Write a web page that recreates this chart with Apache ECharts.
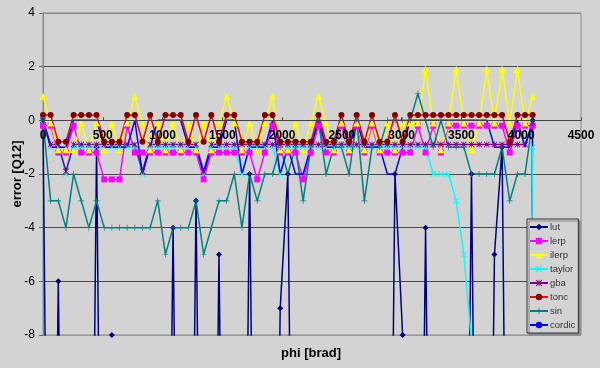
<!DOCTYPE html>
<html><head><meta charset="utf-8">
<script src="https://cdn.jsdelivr.net/npm/echarts@6/dist/echarts.min.js"></script>
<style>html,body{margin:0;padding:0;background:#d3d3d3}#c{width:600px;height:368px}</style>
</head><body><div id="c"></div>
<script>
const phi = [0,64,128,192,256,320,384,448,512,576,640,704,768,832,896,960,1024,1088,1152,1216,1280,1344,1408,1472,1536,1600,1664,1728,1792,1856,1920,1984,2048,2112,2176,2240,2304,2368,2432,2496,2560,2624,2688,2752,2816,2880,2944,3008,3072,3136,3200,3264,3328,3392,3456,3520,3584,3648,3712,3776,3840,3904,3968,4032,4096];
const xTicks = [0,500,1000,1500,2000,2500,3000,3500,4000,4500];
const yTicks = [-8,-6,-4,-2,0,2,4];
const lut = [0,-30,-6,-30,-30,-30,-30,-1,-30,-8,
 -30,-30,-30,-30,-30,-30,-30,-4,-30,-30,
 -3,-30,-30,-5,-30,-30,-30,-2,-30,-30,
 -30,-7,-2,-30,-30,-30,-30,-30,-30,-30,
 -30,-30,-30,-30,-30,-30,-2,-8,-30,-30,
 -4,-30,-30,-30,-30,-30,-2,-30,-30,-5,
 -1,-30,-30,-30,0];
const lerp = [-0.2,-0.2,-1.2,-1.2,-0.2,-1.2,-1.2,-1.2,-2.2,-2.2,
 -2.2,-0.2,-1.2,-1.2,-1.2,-1.2,-1.2,-1.2,-1.2,-1.2,
 -1.2,-2.2,-1.2,-1.2,-1.2,-1.2,-1.2,-1.2,-2.2,-1.2,
 -0.2,-1.2,-1.2,-1.2,-2.2,-1.2,-0.2,-1.2,-1.2,-0.2,
 -1.2,-0.2,-1.2,-0.2,-1.2,-1.2,-1.2,-1.2,-1.2,-0.2,
 -1.2,-0.2,-1.2,-0.2,-0.2,-0.2,-0.2,-0.2,-0.2,-0.2,
 -0.2,-1.2,-0.2,-0.2,-0.2];
const ilerp = [0.9,-0.1,-1.1,-1.1,-1.1,-0.1,-1.1,-0.1,-1.1,-0.1,
 -1.1,-0.1,0.9,-0.1,-1.1,-0.1,-1.1,-0.1,-1.1,-0.1,
 -1.1,-0.1,-1.1,-0.1,0.9,-0.1,-1.1,-0.1,-1.1,-0.1,
 0.9,-1.1,-1.1,-0.1,-1.1,-0.1,0.9,-0.1,-1.1,-0.1,
 -1.1,-0.1,-1.1,-0.1,-1.1,-0.1,-1.1,-0.1,-0.1,-0.1,
 1.9,-0.1,-1.1,-0.1,1.9,-0.1,-1.1,-0.1,1.9,-0.1,
 1.9,-0.1,1.9,-0.1,0.9];
const taylor = [0,-1,-1,-2,-1,-1,-1,-1,-1,-1,
 -1,-1,-1,-2,-1,-1,-1,-1,-1,-1,
 -1,-2,-1,-1,-1,-1,-2,-1,-1,-1,
 -1,-2,-1,-1,-1,-1,-1,-1,-1,-1,
 -1,-1,-1,-1,-1,-1,-1,-1,-1,-1,
 -1,-2,-2,-2,-3,-5,-8.2,-10,-12,-14,
 -16,-19,-21,-24,-1];
const gba = [0,-0.9,-0.9,-1.9,-0.9,-0.9,-0.9,-0.9,-0.9,-0.9,
 -0.9,-0.9,-0.9,-1.9,-0.9,-0.9,-0.9,-0.9,-0.9,-0.9,
 -0.9,-1.9,-0.9,-0.9,-0.9,-0.9,-0.9,-0.9,-0.9,-0.9,
 -0.9,-0.9,-0.9,-0.9,-0.9,-0.9,-0.9,-0.9,-0.9,-0.9,
 -0.9,-0.9,-0.9,-0.9,-0.9,-0.9,-0.9,-0.9,-0.9,-0.9,
 -0.9,-0.9,-0.9,-0.9,-0.9,-0.9,-0.9,-0.9,-0.9,-0.9,
 -0.9,-0.9,-0.9,-0.9,-0.1];
const tonc = [0.2,0.2,-0.8,-0.8,0.2,0.2,0.2,0.2,-0.8,-0.8,
 -0.8,0.2,0.2,-0.8,0.2,-0.8,0.2,0.2,0.2,-0.8,
 0.2,-0.8,0.2,-0.8,0.2,0.2,-0.8,-0.8,-0.8,0.2,
 0.2,-0.8,-0.8,-0.8,-0.8,-0.8,0.2,-0.8,-0.8,0.2,
 -0.8,0.2,-0.8,0.2,-0.8,-0.8,0.2,-0.8,0.2,0.2,
 0.2,0.2,0.2,0.2,0.2,0.2,0.2,0.2,0.2,0.2,
 0.2,-0.8,0.2,0.2,0.2];
const sin = [0,-3,-3,-4,-2,-3,-4,-3,-4,-4,
 -4,-4,-4,-4,-4,-3,-5,-4,-4,-4,
 -3,-5,-4,-3,-3,-2,-4,-2,-3,-2,
 -2,-1,-2,-1,-3,-1,0,-2,-1,-1,
 -2,0,-3,-1,-1,0,0,0,0,1,
 0,-1,0,-1,-1,-1,-2,-2,-2,-2,
 -1,-3,-2,-2,0];
const cordic = [0,-1,-1,-1,0,0,0,0,-1,-1,
 -1,-1,0,-2,-1,0,0,0,0,-1,
 -1,-2,-1,-1,0,0,-2,-1,-1,-1,
 0,-2,-1,-2,-2,-1,0,-1,-1,0,
 -1,0,-1,-1,-1,-2,-2,-1,0,0,
 0,0,0,0,0,0,0,0,0,-1,
 -1,-1,0,-1,0];

const names = ['lut','lerp','ilerp','taylor','gba','tonc','sin','cordic'];
const values = [lut,lerp,ilerp,taylor,gba,tonc,sin,cordic];
const xSym = 'path://M0,1L1,0L5,4L9,0L10,1L6,5L10,9L9,10L5,6L1,10L0,9L4,5Z';
const plusSym = 'path://M4.4,0H5.6V4.4H10V5.6H5.6V10H4.4V5.6H0V4.4H4.4Z';
const starSym = 'path://M0,1L1,0L5,4L9,0L10,1L6,5L10,9L9,10L5,6L1,10L0,9L4,5Z M4.4,0H5.6V10H4.4Z';
const styles = [
 {line:'#000080', item:'#000080', symbol:'diamond', size:6},
 {line:'#FF00FF', item:'#FF00FF', symbol:'rect', size:6},
 {line:'#FFFF00', item:'#FFFF00', symbol:'triangle', size:7},
 {line:'#00FFFF', item:'#00FFFF', symbol:xSym, size:6},
 {line:'#800080', item:'#800080', symbol:starSym, size:6},
 {line:'#FF0000', item:'#800000', symbol:'circle', size:6},
 {line:'#008080', item:'#008080', symbol:plusSym, size:6},
 {line:'#0000FF', item:'#0000FF', symbol:'none', size:0}
];
const series = names.map((n,k)=>({
  name:n, type:'line', data: phi.map((p,i)=>[p, values[k][i]]),
  symbol: styles[k].symbol, symbolSize: styles[k].size, showSymbol: styles[k].symbol!=='none',
  lineStyle:{color:styles[k].line, width:1.5},
  itemStyle:{color:styles[k].item, borderColor:styles[k].item, borderWidth:0},
  emphasis:{disabled:true}, animation:false, clip:true
}));

const G = {left:43, right:19, top:13, bottom:33};
const plotH = 368 - G.top - G.bottom;
const zeroOffset = plotH * (0 - yTicks[0]) / (yTicks[yTicks.length-1] - yTicks[0]);

const chart = echarts.init(document.getElementById('c'));
chart.setOption({
  backgroundColor:'#d3d3d3',
  animation:false,
  textStyle:{fontFamily:'Liberation Sans, Arial, sans-serif'},
  grid:{left:G.left, right:G.right, top:G.top, bottom:G.bottom, outerBoundsMode:'none', containLabel:false,
    show:true, backgroundColor:'#d3d3d3', borderColor:'#8a8a8a', borderWidth:1},
  xAxis:{type:'value', min:xTicks[0], max:xTicks[xTicks.length-1], interval:500,
    offset:-zeroOffset, z:10,
    axisLine:{onZero:false, lineStyle:{color:'#444', width:1}},
    axisTick:{show:true, inside:true, length:3, lineStyle:{color:'#444'}},
    axisLabel:{color:'#000', fontWeight:'bold', fontSize:12, margin:9, showMaxLabel:true, showMinLabel:true,
      formatter:v=>String(v)},
    splitLine:{show:false}},
  yAxis:{type:'value', min:yTicks[0], max:yTicks[yTicks.length-1], interval:2,
    name:'error [Q12]', nameLocation:'middle', nameGap:19, nameRotate:90, nameMoveOverlap:false,
    nameTextStyle:{color:'#000', fontWeight:'bold', fontSize:13},
    axisLine:{show:true, onZero:false, lineStyle:{color:'#8a8a8a'}},
    axisTick:{show:true, length:4, lineStyle:{color:'#666'}},
    axisLabel:{color:'#000', fontSize:12, margin:8, formatter:v=>String(v)},
    splitLine:{show:true, lineStyle:{color:['#999','#4a4a4a','#4a4a4a','#4a4a4a','#4a4a4a','#4a4a4a','#8a8a8a'], width:1}}},
  legend:{orient:'vertical', left:527, top:219, data:names, z:20,
    itemWidth:18, itemHeight:8, itemGap:0,
    padding:[1,3,1,2], backgroundColor:'#d3d3d3', borderColor:'#333', borderWidth:1,
    shadowColor:'#888', shadowOffsetX:2, shadowOffsetY:2, shadowBlur:0,
    textStyle:{color:'#333', fontSize:9.5, lineHeight:14, padding:[0,0,0,-3]}},
  graphic:[{type:'text', x:311, y:353, style:{text:'phi [brad]', font:'bold 13px Liberation Sans, Arial, sans-serif', fill:'#000', textAlign:'center', textVerticalAlign:'middle'}}],
  series: series
});
</script></body></html>
